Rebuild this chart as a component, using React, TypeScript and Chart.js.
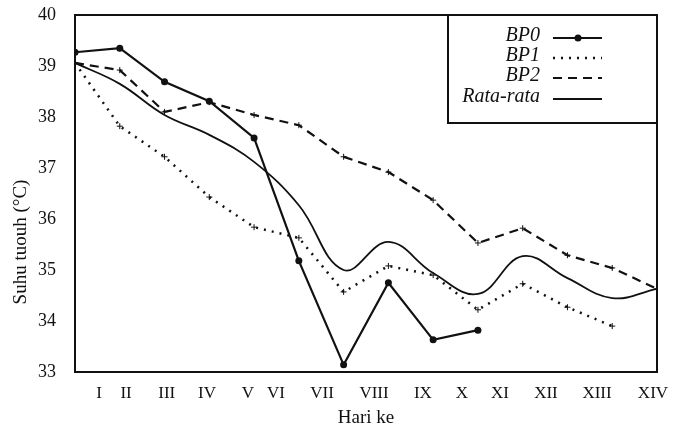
import React, { useEffect, useRef } from "react";
import { Chart, registerables } from "chart.js";

Chart.register(...registerables);

// Day labels (Roman numerals) and where the scan prints them along the day axis
const DAYS = ["I", "II", "III", "IV", "V", "VI", "VII", "VIII", "IX", "X", "XI", "XII", "XIII", "XIV"];
const DAY_LABEL_POS = [0.54, 1.14, 2.05, 2.95, 3.86, 4.49, 5.52, 6.68, 7.77, 8.64, 9.49, 10.52, 11.66, 12.91];

// Body temperature (°C) per observation
const BP0 = [39.27, 39.35, 38.69, 38.31, 37.59, 35.18, 33.14, 34.75, 33.63, 33.82];
const BP1 = [39.06, 37.82, 37.22, 36.43, 35.84, 35.63, 34.57, 35.08, 34.9, 34.22, 34.73, 34.27, 33.9];
const BP2 = [39.06, 38.92, 38.1, 38.29, 38.04, 37.84, 37.22, 36.92, 36.37, 35.53, 35.82, 35.29, 35.04, 34.63];
const RATA = [39.06, 38.65, 38.04, 37.65, 37.12, 36.27, 35.0, 35.55, 34.94, 34.53, 35.27, 34.84, 34.45, 34.63];

const Y_TITLE = "Suhu tuouh (°C)";
const X_TITLE = "Hari ke";

const INK = "#111";
const SERIF = "'Liberation Serif', 'DejaVu Serif', serif";

const toXY = (arr: number[]) => arr.map((y, i) => ({ x: i, y }));

const framePlugin = {
  id: "frame",
  afterDraw(chart: any) {
    const { ctx, chartArea: a } = chart;
    ctx.save();
    ctx.strokeStyle = INK;
    ctx.lineWidth = 2;
    ctx.strokeRect(a.left, a.top, a.right - a.left, a.bottom - a.top);

    // legend box
    const bx = 448;
    const by = a.top;
    const bw = a.right - bx;
    const bh = 108;
    ctx.fillStyle = "#fff";
    ctx.fillRect(bx, by, bw, bh);
    ctx.strokeRect(bx, by, bw, bh);

    const rows = [41, 61, 81, 102];
    ctx.font = `italic 20px ${SERIF}`;
    ctx.textAlign = "right";
    ctx.textBaseline = "alphabetic";
    chart.data.datasets.forEach((ds: any, i: number) => {
      const yb = rows[i];
      ctx.fillStyle = INK;
      ctx.fillText(ds.label, 540, yb);
      const ly = yb - 3;
      ctx.beginPath();
      ctx.setLineDash(ds.borderDash || []);
      ctx.lineWidth = ds.borderWidth;
      ctx.strokeStyle = INK;
      ctx.moveTo(553, ly);
      ctx.lineTo(602, ly);
      ctx.stroke();
      ctx.setLineDash([]);
      if (ds.pointStyle === "circle" && ds.pointRadius > 0) {
        ctx.beginPath();
        ctx.arc(578, ly, 3.5, 0, Math.PI * 2);
        ctx.fill();
      }
    });

    // y-axis title
    ctx.save();
    ctx.translate(21, 242);
    ctx.rotate(-Math.PI / 2);
    ctx.textAlign = "center";
    ctx.textBaseline = "middle";
    ctx.font = `19px ${SERIF}`;
    ctx.fillStyle = INK;
    ctx.fillText(Y_TITLE, 0, 0);
    ctx.restore();
    ctx.restore();
  },
};

export default function App() {
  const ref = useRef<HTMLCanvasElement | null>(null);

  useEffect(() => {
    document.body.style.margin = "0";
    const canvas = ref.current;
    if (!canvas) return;
    const chart = new Chart(canvas, {
      type: "line",
      data: {
        datasets: [
          {
            label: "BP0",
            data: toXY(BP0),
            borderColor: INK,
            backgroundColor: INK,
            borderWidth: 2.2,
            pointStyle: "circle",
            pointRadius: 3.5,
            pointBackgroundColor: INK,
            pointBorderWidth: 0,
            tension: 0,
          },
          {
            label: "BP1",
            data: toXY(BP1),
            borderColor: INK,
            backgroundColor: INK,
            borderWidth: 2.5,
            borderDash: [2, 6],
            pointStyle: "cross",
            pointRadius: 3,
            pointBorderWidth: 1,
            tension: 0,
          },
          {
            label: "BP2",
            data: toXY(BP2),
            borderColor: INK,
            backgroundColor: INK,
            borderWidth: 2.2,
            borderDash: [9, 6],
            pointStyle: "cross",
            pointRadius: 3,
            pointBorderWidth: 1,
            tension: 0,
          },
          {
            label: "Rata-rata",
            data: toXY(RATA),
            borderColor: INK,
            backgroundColor: INK,
            borderWidth: 1.8,
            pointRadius: 0,
            tension: 0.4,
          },
        ],
      },
      options: {
        responsive: false,
        animation: false,
        devicePixelRatio: 1,
        layout: { padding: { top: 15, right: 18, left: 0, bottom: 0 } },
        plugins: { legend: { display: false }, tooltip: { enabled: false } },
        scales: {
          x: {
            type: "linear",
            min: 0,
            max: 13,
            grid: { display: false, drawTicks: false },
            border: { display: false },
            afterBuildTicks: (axis: any) => {
              axis.ticks = DAY_LABEL_POS.map((v) => ({ value: v }));
            },
            afterFit: (scale: any) => {
              scale.height = 57;
              scale.paddingLeft = 0;
              scale.paddingRight = 0;
            },
            ticks: {
              autoSkip: false,
              maxRotation: 0,
              minRotation: 0,
              padding: 11,
              color: INK,
              font: { family: SERIF, size: 17 },
              callback: (_v: any, i: number) => DAYS[i],
            },
            title: {
              display: true,
              text: X_TITLE,
              color: INK,
              font: { family: SERIF, size: 19 },
              padding: { top: 0, bottom: 0 },
            },
          },
          y: {
            min: 33,
            max: 40,
            grid: { display: false, drawTicks: false },
            border: { display: false },
            afterFit: (scale: any) => {
              scale.width = 75;
              scale.paddingTop = 0;
              scale.paddingBottom = 0;
            },
            ticks: {
              stepSize: 1,
              padding: 19,
              color: INK,
              font: { family: SERIF, size: 18 },
            },
          },
        },
      },
      plugins: [framePlugin],
    });
    return () => chart.destroy();
  }, []);

  return (
    <div style={{ width: 675, height: 429, background: "#fff" }}>
      <canvas ref={ref} width={675} height={429} />
    </div>
  );
}
